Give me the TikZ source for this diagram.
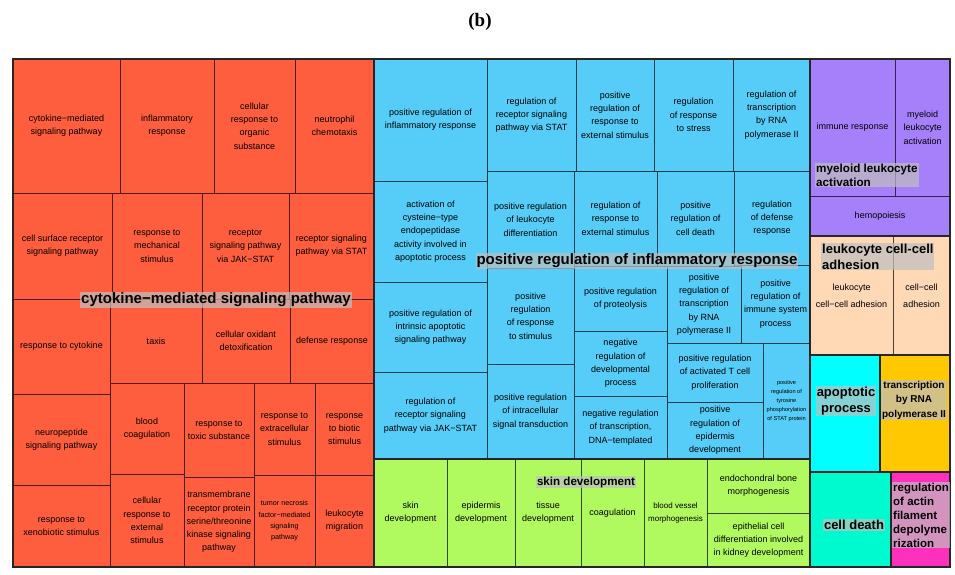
\documentclass[tikz,border=0pt]{standalone}
\usepackage{fontspec}
\setsansfont{Liberation Sans}
\newfontfamily\titlefont{Liberation Serif}
\definecolor{cytred}{RGB}{255,94,62}
\definecolor{infblue}{RGB}{86,204,248}
\definecolor{skingreen}{RGB}{176,250,96}
\definecolor{myelpurple}{RGB}{166,128,250}
\definecolor{adhpeach}{RGB}{255,216,182}
\definecolor{apocyan}{RGB}{0,255,255}
\definecolor{rnagold}{RGB}{255,200,0}
\definecolor{deathaqua}{RGB}{0,250,208}
\definecolor{actinpink}{RGB}{255,48,190}
\newcommand{\gotile}[8][]{%
  \draw[tilebox, fill=#6] (#2,#3) rectangle (#4,#5);
  \node[tiletext, #1] (#7) at ({(#2+#4)/2},{(#3+#5)/2}) {#8};}

\begin{document}
\begin{tikzpicture}[x=1pt,y=-1pt,
    tilebox/.style={draw=black,draw opacity=0.7,line width=0.7pt},
    tiletext/.style={align=center,inner sep=0pt,font=\sffamily\fontsize{9}{13.3}\selectfont},
    groupframe/.style={draw=black!85,line width=1.8pt},
    grouplabel/.style={fill=lightgray,fill opacity=0.7,text opacity=1,inner xsep=1pt,inner ysep=0.8pt,
      font=\sffamily\bfseries\fontsize{15}{16}\selectfont}]
    \useasboundingbox (0,0) rectangle (955,574);
    \node[font=\titlefont\bfseries\fontsize{19}{22}\selectfont] (title) at (480,22) {(b)};

    \gotile{13}{59}{120}{193}{cytred}{cytmed}{cytokine−mediated\\signaling pathway}
    \gotile{120}{59}{214}{193}{cytred}{inflresp}{inflammatory\\response}
    \gotile{214}{59}{295}{193}{cytred}{orgsubst}{cellular\\response to\\organic\\substance}
    \gotile{295}{59}{374}{193}{cytred}{neutchem}{neutrophil\\chemotaxis}
    \gotile{13}{193}{112}{299}{cytred}{cellsurf}{cell surface receptor\\signaling pathway}
    \gotile{112}{193}{202}{299}{cytred}{mechstim}{response to\\mechanical\\stimulus}
    \gotile{202}{193}{289}{299}{cytred}{jakstat}{receptor\\signaling pathway\\via JAK−STAT}
    \gotile{289}{193}{374}{299}{cytred}{viastat}{receptor signaling\\pathway via STAT}
    \gotile{13}{299}{110}{394}{cytred}{respcyt}{response to cytokine}
    \gotile{13}{394}{110}{485}{cytred}{neuropep}{neuropeptide\\signaling pathway}
    \gotile{13}{485}{110}{567}{cytred}{xenobio}{response to\\xenobiotic stimulus}
    \gotile{110}{299}{202}{383}{cytred}{taxis}{taxis}
    \gotile{202}{299}{290}{383}{cytred}{oxidant}{cellular oxidant\\detoxification}
    \gotile{290}{299}{374}{383}{cytred}{defresp}{defense response}
    \gotile{110}{383}{184}{474}{cytred}{bloodcoag}{blood\\coagulation}
    \gotile{110}{474}{184}{567}{cytred}{extstim}{cellular\\response to\\external\\stimulus}
    \gotile{184}{383}{254}{477}{cytred}{toxic}{response to\\toxic substance}
    \gotile{184}{477}{254}{567}{cytred}{tmkinase}{transmembrane\\receptor protein\\serine/threonine\\kinase signaling\\pathway}
    \gotile{254}{383}{315}{475}{cytred}{extracell}{response to\\extracellular\\stimulus}
    \gotile[font=\sffamily\fontsize{7.2}{11.3}\selectfont]{254}{475}{315}{567}{cytred}{tnf}{tumor necrosis\\factor−mediated\\signaling\\pathway}
    \gotile{315}{383}{374}{475}{cytred}{biotic}{response\\to biotic\\stimulus}
    \gotile{315}{475}{374}{567}{cytred}{leukmig}{leukocyte\\migration}

    \gotile{374}{59}{487}{181}{infblue}{posinfl}{positive regulation of\\inflammatory response}
    \gotile{374}{181}{487}{282}{infblue}{cysteine}{activation of\\cysteine−type\\endopeptidase\\activity involved in\\apoptotic process}
    \gotile{374}{282}{487}{372}{infblue}{intrinsic}{positive regulation of\\intrinsic apoptotic\\signaling pathway}
    \gotile{374}{372}{487}{459}{infblue}{regjak}{regulation of\\receptor signaling\\pathway via JAK−STAT}
    \gotile{487}{59}{576}{171}{infblue}{regstat}{regulation of\\receptor signaling\\pathway via STAT}
    \gotile{576}{59}{654}{171}{infblue}{posext}{positive\\regulation of\\response to\\external stimulus}
    \gotile{654}{59}{733}{171}{infblue}{regstress}{regulation\\of response\\to stress}
    \gotile{733}{59}{810}{171}{infblue}{regrna}{regulation of\\transcription\\by RNA\\polymerase II}
    \gotile{487}{171}{574}{268}{infblue}{posleuk}{positive regulation\\of leukocyte\\differentiation}
    \gotile{574}{171}{657}{266}{infblue}{regext}{regulation of\\response to\\external stimulus}
    \gotile{657}{171}{734}{266}{infblue}{posdeath}{positive\\regulation of\\cell death}
    \gotile{734}{171}{810}{265}{infblue}{regdef}{regulation\\of defense\\response}
    \gotile{487}{268}{574}{364}{infblue}{posstim}{positive\\regulation\\of response\\to stimulus}
    \gotile{487}{364}{574}{459}{infblue}{posintra}{positive regulation\\of intracellular\\signal transduction}
    \gotile{574}{266}{667}{331}{infblue}{posprot}{positive regulation\\of proteolysis}
    \gotile{574}{331}{667}{396}{infblue}{negdev}{negative\\regulation of\\developmental\\process}
    \gotile{574}{396}{667}{459}{infblue}{negtrans}{negative regulation\\of transcription,\\DNA−templated}
    \gotile{667}{266}{741}{343}{infblue}{posrna}{positive\\regulation of\\transcription\\by RNA\\polymerase II}
    \gotile{741}{265}{810}{343}{infblue}{posimm}{positive\\regulation of\\immune system\\process}
    \gotile{667}{343}{763}{402}{infblue}{poscell}{positive regulation\\of activated T cell\\proliferation}
    \gotile{667}{402}{763}{459}{infblue}{posepi}{positive\\regulation of\\epidermis\\development}
    \gotile[font=\sffamily\fontsize{5.6}{9}\selectfont]{763}{343}{810}{459}{infblue}{postyr}{positive\\regulation of\\tyrosine\\phosphorylation\\of STAT protein}

    \gotile{374}{459}{447}{567}{skingreen}{skindev}{skin\\development}
    \gotile{447}{459}{515}{567}{skingreen}{epidev}{epidermis\\development}
    \gotile{515}{459}{581}{567}{skingreen}{tissdev}{tissue\\development}
    \gotile{581}{459}{644}{567}{skingreen}{coag}{coagulation}
    \gotile[font=\sffamily\fontsize{8}{13.3}\selectfont]{644}{459}{707}{567}{skingreen}{vessel}{blood vessel\\morphogenesis}
    \gotile{707}{459}{810}{513}{skingreen}{endobone}{endochondral bone\\morphogenesis}
    \gotile{707}{513}{810}{567}{skingreen}{kidney}{epithelial cell\\differentiation involved\\in kidney development}

    \gotile{810}{59}{895}{196}{myelpurple}{immresp}{immune response}
    \gotile{895}{59}{950}{196}{myelpurple}{myelact}{myeloid\\leukocyte\\activation}
    \gotile{810}{196}{950}{236}{myelpurple}{hemo}{hemopoiesis}
    \gotile[font=\sffamily\fontsize{9}{17}\selectfont]{810}{236}{893}{355}{adhpeach}{leukadh}{leukocyte\\cell−cell adhesion}
    \gotile[font=\sffamily\fontsize{9}{17}\selectfont]{893}{236}{950}{355}{adhpeach}{celladh}{cell−cell\\adhesion}
    \fill[apocyan] (810,355) rectangle (880,472);
    \fill[rnagold] (880,355) rectangle (950,472);
    \fill[deathaqua] (810,472) rectangle (891,567);
    \fill[actinpink] (891,472) rectangle (950,567);

    \draw[groupframe] (13,59) rectangle (374,567);
    \draw[groupframe] (374,59) rectangle (810,459);
    \draw[groupframe] (374,459) rectangle (810,567);
    \draw[groupframe] (810,59) rectangle (950,236);
    \draw[groupframe] (810,236) rectangle (950,355);
    \draw[groupframe] (810,355) rectangle (880,472);
    \draw[groupframe] (880,355) rectangle (950,472);
    \draw[groupframe] (810,472) rectangle (891,567);
    \draw[groupframe] (891,472) rectangle (950,567);

    \node[grouplabel] (cytlabel) at (216,300) {cytokine−mediated signaling pathway};
    \node[grouplabel] (infllabel) at (637,261) {positive regulation of inflammatory response};
    \node[grouplabel, font=\sffamily\bfseries\fontsize{11.6}{13}\selectfont] (skinlabel) at (586,482) {skin development};
    \node[grouplabel, anchor=north west, align=left, font=\sffamily\bfseries\fontsize{11.7}{13.7}\selectfont] (myellabel) at (815,163) {myeloid leukocyte\\activation};
    \node[grouplabel, anchor=north west, align=left, font=\sffamily\bfseries\fontsize{13}{16}\selectfont] (adhlabel) at (821,243) {leukocyte cell-cell\\adhesion};
    \node[grouplabel, align=center, font=\sffamily\bfseries\fontsize{13}{16.5}\selectfont] (apolabel) at (846,401) {apoptotic\\process};
    \node[grouplabel, align=center, font=\sffamily\bfseries\fontsize{10}{14.5}\selectfont] (rnalabel) at (914,400) {transcription\\by RNA\\polymerase II};
    \node[grouplabel, font=\sffamily\bfseries\fontsize{13}{15}\selectfont] (deathlabel) at (854,525) {cell death};
    \begin{scope}
      \clip (891,472) rectangle (950,567);
      \node[grouplabel, anchor=north west, align=left, font=\sffamily\bfseries\fontsize{11.5}{14}\selectfont] (actinlabel) at (892,482) {regulation\\of actin\\filament\\depolyme\\rization};
    \end{scope}
\end{tikzpicture}
\end{document}
